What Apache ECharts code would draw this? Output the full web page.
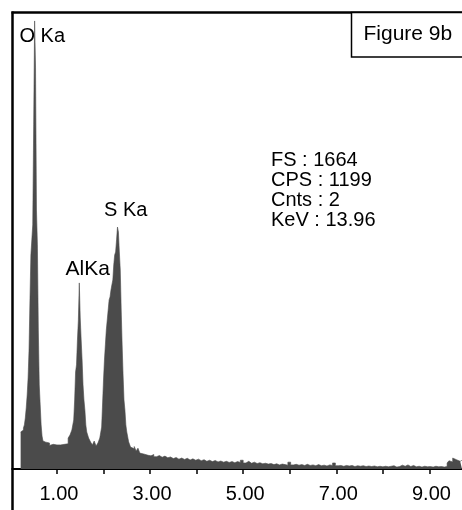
<!DOCTYPE html>
<html>
<head>
<meta charset="utf-8">
<script src="https://cdn.jsdelivr.net/npm/echarts@6/dist/echarts.min.js"></script>
<style>
html,body{margin:0;padding:0;background:#fff;}
#chart{width:462px;height:510px;}
</style>
</head>
<body>
<div id="chart"></div>
<script>
// EDS spectrum: [energy keV, counts]
const oKaRegion = [[0.22,135],[0.24,139],[0.26,142],[0.28,150],[0.30,161],[0.32,186],[0.34,223],[0.36,270],[0.38,332],[0.40,434],[0.42,617],[0.44,781],[0.46,836],[0.48,891],[0.50,1256],[0.52,1635],[0.54,1464],[0.56,945],[0.58,818],[0.60,507],[0.62,307],[0.64,234],[0.66,161],[0.68,120],[0.70,102]];
const lowBackground = [[0.72,98],[0.76,92],[0.80,95],[0.84,86],[0.88,90],[0.92,84],[0.96,88],[1.00,82],[1.04,88],[1.08,85],[1.12,90],[1.16,84],[1.20,92]];
const alKaRegion = [[1.24,113],[1.28,124],[1.32,142],[1.36,179],[1.38,252],[1.40,354],[1.42,380],[1.44,471],[1.46,544],[1.48,679],[1.50,551],[1.52,471],[1.54,398],[1.56,307],[1.58,252],[1.60,215],[1.62,161],[1.64,135],[1.68,113],[1.72,99],[1.76,88],[1.80,102],[1.84,84],[1.88,95],[1.92,113]];
const sKaRegion = [[1.96,153],[2.00,325],[2.02,398],[2.04,453],[2.06,507],[2.08,544],[2.10,580],[2.12,617],[2.14,628],[2.16,653],[2.18,672],[2.20,690],[2.22,745],[2.24,781],[2.26,792],[2.28,836],[2.30,883],[2.32,865],[2.34,792],[2.36,726],[2.38,580],[2.40,453],[2.42,343],[2.44,252],[2.46,215],[2.48,161],[2.50,135],[2.54,99],[2.58,80]];
const highBackground = [[2.62,74],[2.66,82],[2.70,66],[2.74,76],[2.78,58],[2.82,55],[2.86,60],[2.90,50],[2.96,48],[3.02,53],[3.08,45],[3.14,49],[3.20,43],[3.26,47],[3.32,41],[3.38,44],[3.44,38],[3.50,42],[3.56,36],[3.62,40],[3.68,35],[3.74,39],[3.80,33],[3.86,37],[3.92,32],[3.98,36],[4.04,30],[4.10,34],[4.16,28],[4.22,32],[4.28,27],[4.34,31],[4.40,26],[4.46,29],[4.52,25],[4.58,28],[4.64,24],[4.70,27],[4.76,23],[4.82,27],[4.88,24],[4.94,32],[5.00,22],[5.06,28],[5.12,21],[5.18,25],[5.24,20],[5.30,23],[5.36,19],[5.42,21],[5.48,18],[5.54,20],[5.60,16],[5.66,19],[5.72,15],[5.78,18],[5.84,16],[5.90,14],[5.96,25],[6.02,15],[6.08,17],[6.14,14],[6.20,16],[6.26,13],[6.32,17],[6.38,13],[6.44,15],[6.50,12],[6.56,16],[6.62,12],[6.68,14],[6.74,11],[6.80,15],[6.86,13],[6.92,22],[6.98,12],[7.04,13],[7.10,10],[7.16,13],[7.22,11],[7.28,13],[7.34,9],[7.40,12],[7.46,10],[7.52,12],[7.58,9],[7.64,11],[7.70,9],[7.76,11],[7.82,8],[7.88,10],[7.94,8],[8.00,10],[8.06,8],[8.12,10],[8.18,12],[8.24,7],[8.30,9],[8.36,14],[8.42,10],[8.48,15],[8.54,9],[8.60,13],[8.66,8],[8.72,10],[8.78,7],[8.84,10],[8.90,8],[8.96,9],[9.02,7],[9.08,10],[9.14,8],[9.20,9],[9.26,7],[9.32,9]];
const highPeak = [[9.38,22],[9.42,30],[9.46,26],[9.50,40],[9.54,34],[9.58,38],[9.62,28],[9.66,32],[9.70,32]];

const tickValues = [1,2,3,4,5,6,7,8,9];
const labelValues = [1,3,5,7,9];
const peakLabels = ['O Ka','AlKa','S Ka'];
const infoLines = ['FS : 1664','CPS : 1199','Cnts : 2','KeV : 13.96'];
const figureTitle = 'Figure 9b';
const fullScale = 1664;
const energyMax = 9.7;

const spectrum = [].concat(oKaRegion, lowBackground, alKaRegion, sKaRegion, highBackground, highPeak);

const FONT = "'Liberation Sans', Arial, sans-serif";
const chart = echarts.init(document.getElementById('chart'), null, {renderer:'canvas'});

const baseX = {
  type:'value', min:0, max:energyMax, position:'bottom', offset:5,
  splitLine:{show:false}
};

chart.setOption({
  animation:false,
  backgroundColor:'#fff',
  grid:{left:10.4, right:0, top:13, bottom:41, containLabel:false},
  xAxis:[
    Object.assign({}, baseX, {
      axisLine:{show:true, lineStyle:{color:'#000', width:2}},
      axisTick:{show:true, inside:false, length:4, customValues:tickValues, lineStyle:{color:'#000', width:1.5}},
      axisLabel:{show:true, customValues:labelValues, margin:10, color:'#000',
        fontFamily:FONT, fontSize:20, padding:[0,0,0,4],
        formatter:v=>v.toFixed(2)}
    }),
    Object.assign({}, baseX, {
      axisLine:{show:false},
      axisTick:{show:true, inside:true, length:3, customValues:tickValues, lineStyle:{color:'#000', width:1.5}},
      axisLabel:{show:false}
    })
  ],
  yAxis:{type:'value', min:0, max:fullScale, show:false, splitLine:{show:false}},
  series:[{
    type:'line', xAxisIndex:0, step:'end', symbol:'none',
    data:spectrum,
    lineStyle:{color:'#4b4b4b', width:0.6},
    areaStyle:{color:'#4b4b4b', opacity:1},
    z:3
  }],
  graphic:[
    {type:'rect', z:9, shape:{x:0,y:455,width:11.5,height:30}, style:{fill:'#fff'}},
    {type:'line', z:10, shape:{x1:12.5,y1:11.5,x2:12.5,y2:510}, style:{stroke:'#000', lineWidth:2.5}},
    {type:'line', z:10, shape:{x1:11.5,y1:12.5,x2:462,y2:12.5}, style:{stroke:'#000', lineWidth:2.5}},
    {type:'rect', z:10, shape:{x:351.5,y:12.5,width:112,height:44.5}, style:{fill:'#fff', stroke:'#000', lineWidth:1.5}},
    {type:'text', z:11, x:363.5, y:34, style:{text:figureTitle, font:"21px "+FONT, fill:'#000', verticalAlign:'middle'}},
    {type:'text', z:0, x:19.5, y:36.5, style:{text:peakLabels[0], font:"20px "+FONT, fill:'#000', verticalAlign:'middle'}},
    {type:'text', z:0, x:65.5, y:269.5, style:{text:peakLabels[1], font:"21px "+FONT, fill:'#000', verticalAlign:'middle'}},
    {type:'text', z:0, x:104, y:210, style:{text:peakLabels[2], font:"20px "+FONT, fill:'#000', verticalAlign:'middle'}},
    {type:'text', z:0, x:271, y:160, style:{text:infoLines[0], font:"20px "+FONT, fill:'#000', verticalAlign:'middle'}},
    {type:'text', z:0, x:271, y:180, style:{text:infoLines[1], font:"20px "+FONT, fill:'#000', verticalAlign:'middle'}},
    {type:'text', z:0, x:271, y:200, style:{text:infoLines[2], font:"20px "+FONT, fill:'#000', verticalAlign:'middle'}},
    {type:'text', z:0, x:271, y:220, style:{text:infoLines[3], font:"20px "+FONT, fill:'#000', verticalAlign:'middle'}}
  ]
});
</script>
</body>
</html>
